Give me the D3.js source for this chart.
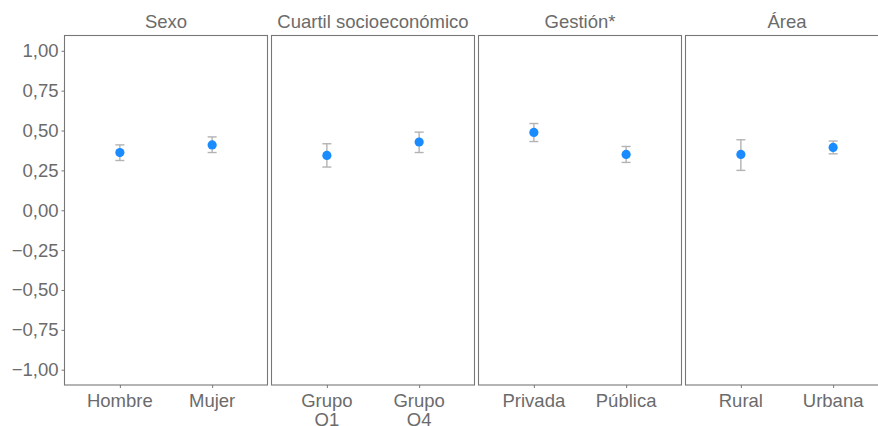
<!DOCTYPE html>
<html>
<head>
<meta charset="utf-8">
<script src="https://cdn.jsdelivr.net/npm/d3@7"></script>
<style>
  body { margin: 0; background: #fff; }
  svg { display: block; font-family: "Liberation Sans", Arial, sans-serif; }
</style>
</head>
<body>
<script>
// panels and their categories
var panels = ["Sexo", "Cuartil socioeconómico", "Gestión*", "Área"];
var categories = [["Hombre", "Mujer"], ["Grupo\nQ1", "Grupo\nQ4"], ["Privada", "Pública"], ["Rural", "Urbana"]];
// point estimate, lower and upper bound per panel
var estimates = [[0.362, 0.410], [0.344, 0.428], [0.488, 0.350], [0.350, 0.394]];
var lowers = [[0.312, 0.362], [0.271, 0.362], [0.431, 0.300], [0.250, 0.354]];
var uppers = [[0.410, 0.460], [0.417, 0.490], [0.544, 0.400], [0.442, 0.434]];
var yTicks = [1, 0.75, 0.5, 0.25, 0, -0.25, -0.5, -0.75, -1];

var width = 878, height = 426;
var margin = {top: 35.5, left: 64.5, bottom: 41},
    panelW = 203, gap = 4,
    plotH = height - margin.top - margin.bottom;

var textCol = "#6b6b6b", lineCol = "#777";

var svg = d3.select("body").append("svg")
    .attr("width", width)
    .attr("height", height);

var y = d3.scaleLinear().domain([-1.096, 1.096]).range([margin.top + plotH, margin.top]);

var fmt = function(d) {
  return (d < 0 ? "\u2212" : "") + d3.format(".2f")(Math.abs(d)).replace(".", ",");
};

// y axis
var yAxis = svg.append("g")
    .attr("transform", "translate(" + margin.left + ",0)")
    .call(d3.axisLeft(y).tickValues(yTicks).tickSize(3).tickPadding(3).tickFormat(fmt));
yAxis.select(".domain").remove();
yAxis.selectAll("line").attr("stroke", lineCol);
yAxis.selectAll("text").attr("fill", textCol).style("font-size", "18.5px")
    .style("font-family", "'Liberation Sans', Arial, sans-serif");

panels.forEach(function(name, i) {
  var x0 = margin.left + i * (panelW + gap);
  var x = d3.scalePoint().domain(categories[i]).range([x0, x0 + panelW]).padding(0.6);

  var g = svg.append("g");

  // panel border
  g.append("rect")
      .attr("x", x0).attr("y", margin.top)
      .attr("width", panelW).attr("height", plotH)
      .attr("fill", "none").attr("stroke", lineCol).attr("stroke-width", 1.1);

  // strip title
  g.append("text")
      .attr("x", x0 + panelW / 2).attr("y", 28)
      .attr("text-anchor", "middle")
      .attr("fill", textCol).style("font-size", "18.5px")
      .text(name);

  // x axis
  var xa = g.append("g")
      .attr("transform", "translate(0," + (margin.top + plotH) + ")")
      .call(d3.axisBottom(x).tickSize(3).tickFormat(""));
  xa.select(".domain").remove();
  xa.selectAll("line").attr("stroke", lineCol);

  categories[i].forEach(function(c) {
    var lines = c.split("\n");
    var t = g.append("text")
        .attr("x", x(c)).attr("y", 407)
        .attr("text-anchor", "middle")
        .attr("fill", textCol).style("font-size", "18.5px");
    lines.forEach(function(l, k) {
      t.append("tspan").attr("x", x(c)).attr("dy", k === 0 ? 0 : 18.5).text(l);
    });
  });

  var rows = categories[i].map(function(c, j) {
    return {cat: c, est: estimates[i][j], lo: lowers[i][j], hi: uppers[i][j]};
  });

  var eb = g.selectAll(".eb").data(rows).enter().append("g").attr("class", "eb")
      .attr("stroke", "#b3b3b3").attr("stroke-width", 1.4);
  eb.append("line")
      .attr("x1", function(d) { return x(d.cat); }).attr("x2", function(d) { return x(d.cat); })
      .attr("y1", function(d) { return y(d.lo); }).attr("y2", function(d) { return y(d.hi); });
  eb.append("line")
      .attr("x1", function(d) { return x(d.cat) - 4.5; }).attr("x2", function(d) { return x(d.cat) + 4.5; })
      .attr("y1", function(d) { return y(d.hi); }).attr("y2", function(d) { return y(d.hi); });
  eb.append("line")
      .attr("x1", function(d) { return x(d.cat) - 4.5; }).attr("x2", function(d) { return x(d.cat) + 4.5; })
      .attr("y1", function(d) { return y(d.lo); }).attr("y2", function(d) { return y(d.lo); });

  g.selectAll(".pt").data(rows).enter().append("circle")
      .attr("class", "pt")
      .attr("cx", function(d) { return x(d.cat); })
      .attr("cy", function(d) { return y(d.est); })
      .attr("r", 4.6)
      .attr("fill", "#1a8cff");
});
</script>
</body>
</html>
